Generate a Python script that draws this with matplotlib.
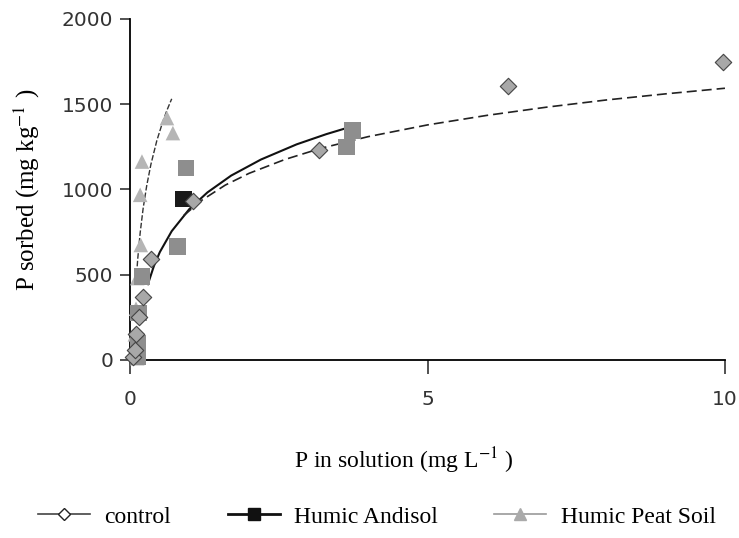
import matplotlib
matplotlib.use("Agg")
import matplotlib.pyplot as plt
from matplotlib.lines import Line2D

plt.rcParams['mathtext.fontset'] = 'stix'

# scatter data
control_x = [0.05, 0.08, 0.10, 0.15, 0.22, 0.36, 1.05, 3.18, 6.36, 9.97]
control_y = [20, 60, 150, 250, 370, 590, 930, 1228, 1607, 1744]

andisol_x = [0.13, 0.13, 0.14, 0.20, 0.80, 0.90, 0.94, 3.64, 3.74]
andisol_y = [20, 100, 274, 489, 665, 943, 1124, 1247, 1345]

peat_x = [0.12, 0.10, 0.08, 0.10, 0.12, 0.18, 0.17, 0.20, 0.72, 0.62]
peat_y = [10, 50, 150, 300, 480, 674, 968, 1163, 1330, 1418]

# trend lines, points
peat_fit_x = [0.11, 0.13, 0.17, 0.22, 0.28, 0.35, 0.45, 0.55, 0.62, 0.70]
peat_fit_y = [504, 597, 746, 889, 1022, 1146, 1286, 1397, 1464, 1531]

andisol_fit_x = [0.30, 0.40, 0.50, 0.70, 1.0, 1.3, 1.7, 2.2, 2.8, 3.3, 3.7]
andisol_fit_y = [444, 550, 632, 755, 886, 982, 1081, 1175, 1264, 1324, 1366]

control_fit_x = [0.9, 1.2, 1.6, 2.0, 2.6, 3.2, 4.0, 5.0, 6.0, 7.0, 8.0, 9.0, 10.0]
control_fit_y = [846, 935, 1025, 1094, 1175, 1240, 1309, 1378, 1434, 1482, 1524, 1560, 1593]

labels = ['control', 'Humic Andisol', 'Humic Peat Soil']

serif = 'Liberation Serif'

fig = plt.figure(figsize=(7.39, 5.38), dpi=100)
ax = fig.add_axes([0.176, 0.331, 0.805, 0.634])

# trend lines
ax.plot(peat_fit_x, peat_fit_y, color='#333333', lw=1.0, ls=(0, (4, 1.5)))
ax.plot(andisol_fit_x, andisol_fit_y, color='#111111', lw=1.5)
ax.plot(control_fit_x, control_fit_y, color='#222222', lw=1.2, ls=(0, (6, 3)))

# markers
ax.scatter(peat_x, peat_y, marker='^', s=110, color='#b5b5b5', edgecolors='none',
           clip_on=False, zorder=3)
sq_colors = ['#8e8e8e'] * len(andisol_x)
sq_colors[5] = '#1a1a1a'
ax.scatter(andisol_x, andisol_y, marker='s', s=140, c=sq_colors, edgecolors='none',
           clip_on=False, zorder=3)
ax.scatter(control_x, control_y, marker='D', s=70, color='#a8a8a8', edgecolors='#444444',
           linewidths=0.8, clip_on=False, zorder=4)

ax.set_xlim(0, 10)
ax.set_ylim(0, 2000)
ax.set_xticks([0, 5, 10])
ax.set_yticks([0, 500, 1000, 1500, 2000])
for s in ['top', 'right']:
    ax.spines[s].set_visible(False)
for s in ['left', 'bottom']:
    ax.spines[s].set_linewidth(1.3)
ax.tick_params(axis='y', length=7, width=1.2, labelsize=14.5, colors='#333333', pad=5)
ax.tick_params(axis='x', length=10, width=1.2, labelsize=14.5, colors='#333333', pad=12)

ax.set_ylabel(r'P sorbed (mg kg$^{-1}$ )', family=serif, fontsize=18, labelpad=14)
ax.set_xlabel(r'P in solution (mg L$^{-1}$ )', family=serif, fontsize=17, labelpad=16)
ax.xaxis.set_label_coords(0.46, -0.25)

handles = [
    Line2D([], [], color='#444444', lw=1.2, marker='D', markersize=6,
           markerfacecolor='white', markeredgecolor='#222222'),
    Line2D([], [], color='#111111', lw=2.0, marker='s', markersize=8,
           markerfacecolor='#111111', markeredgecolor='#111111'),
    Line2D([], [], color='#999999', lw=1.2, marker='^', markersize=8,
           markerfacecolor='#aaaaaa', markeredgecolor='#aaaaaa'),
]
fig.legend(handles, labels, loc='lower center', bbox_to_anchor=(0.51, -0.02),
           ncol=3, frameon=False, prop={'family': serif, 'size': 17},
           handlelength=2.2, columnspacing=2.4, handletextpad=0.6)

fig.savefig('out.png', dpi=100)
